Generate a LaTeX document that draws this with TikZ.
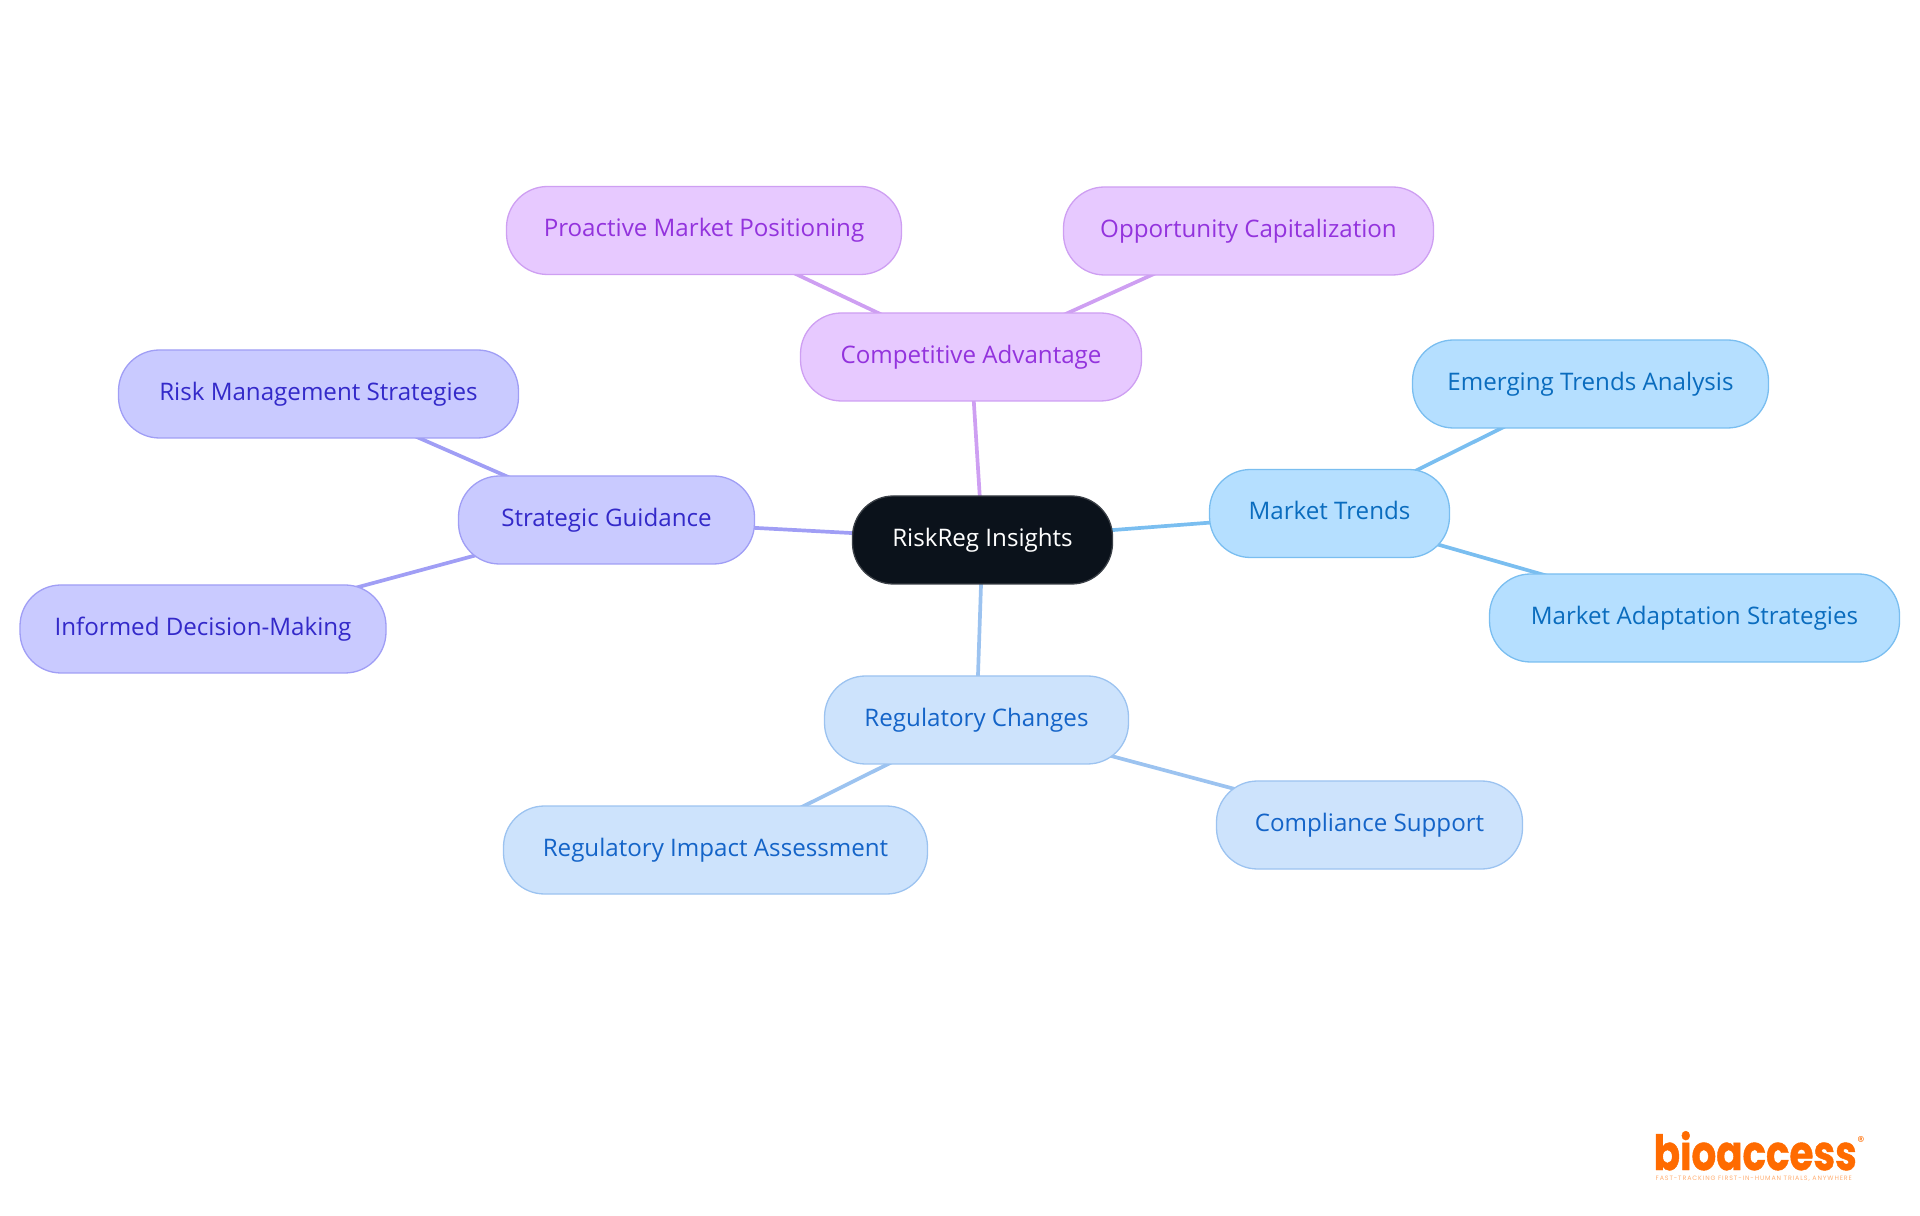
\documentclass[tikz,border=0pt]{standalone}
\usepackage{fontspec}
\setmainfont{Open Sans}
\newfontfamily\logofont{Poppins}
\usetikzlibrary{backgrounds}
\definecolor{rootfill}{HTML}{0B121B}
\definecolor{rootline}{HTML}{3A3F46}
\definecolor{purpfill}{HTML}{E7C9FF}
\definecolor{purpline}{HTML}{CE9FF2}
\definecolor{purptext}{HTML}{9333DD}
\definecolor{indifill}{HTML}{C9CAFF}
\definecolor{indiline}{HTML}{A09EF5}
\definecolor{inditext}{HTML}{3329C9}
\definecolor{skyfill}{HTML}{B5DFFF}
\definecolor{skyline}{HTML}{7ABEF0}
\definecolor{skytext}{HTML}{0A6CBE}
\definecolor{palefill}{HTML}{CDE3FC}
\definecolor{paleline}{HTML}{9CC3F0}
\definecolor{paletext}{HTML}{1464C8}
\definecolor{logoorange}{HTML}{FF6B00}
\tikzset{
	pill/.style={draw, line width=0.013cm, rounded corners=0.41cm, minimum height=0.88cm, inner sep=0pt, text height=0.19cm, text depth=0.06cm, font=\fontsize{6.87}{8}\selectfont},
	rootpill/.style={pill, fill=rootfill, draw=rootline, text=white},
	purppill/.style={pill, fill=purpfill, draw=purpline, text=purptext},
	indipill/.style={pill, fill=indifill, draw=indiline, text=inditext},
	skypill/.style={pill, fill=skyfill, draw=skyline, text=skytext},
	palepill/.style={pill, fill=palefill, draw=paleline, text=paletext},
	branch/.style={line width=0.037cm}
}
\begin{document}
\begin{tikzpicture}
	\useasboundingbox (0,0) rectangle (19.2,12.15); %page frame
	%centre
	\node[rootpill, minimum width=2.6cm] (risk) at (9.825,6.75) {RiskReg Insights};
	%Competitive Advantage
	\node[purppill, minimum width=3.41cm] (comp) at (9.71,8.58) {Competitive Advantage};
	\node[purppill, minimum width=3.95cm] (proa) at (7.04,9.845) {Proactive Market Positioning};
	\node[purppill, minimum width=3.7cm] (oppo) at (12.485,9.84) {Opportunity Capitalization};
	%Market Trends
	\node[skypill, minimum width=2.4cm] (mark) at (13.295,7.015) {Market Trends};
	\node[skypill, minimum width=3.56cm] (emer) at (15.905,8.31) {Emerging Trends Analysis};
	\node[skypill, minimum width=4.1cm] (adap) at (16.945,5.97) {Market Adaptation Strategies};
	%Regulatory Changes
	\node[palepill, minimum width=3.04cm] (regu) at (9.765,4.95) {Regulatory Changes};
	\node[palepill, minimum width=4.24cm] (impa) at (7.155,3.65) {Regulatory Impact Assessment};
	\node[palepill, minimum width=3.06cm] (supp) at (13.695,3.9) {Compliance Support};
	%Strategic Guidance
	\node[indipill, minimum width=2.96cm] (stra) at (6.065,6.95) {Strategic Guidance};
	\node[indipill, minimum width=4cm] (mana) at (3.185,8.21) {Risk Management Strategies};
	\node[indipill, minimum width=3.66cm] (info) at (2.03,5.86) {Informed Decision-Making};
	%branches behind the pills
	\begin{scope}[on background layer]
		\draw[branch, color=purpline] (risk.center) -- (comp.center) (comp.center) -- (proa.center) (comp.center) -- (oppo.center);
		\draw[branch, color=skyline] (risk.center) -- (mark.center) (mark.center) -- (emer.center) (mark.center) -- (adap.center);
		\draw[branch, color=paleline] (risk.center) -- (regu.center) (regu.center) -- (impa.center) (regu.center) -- (supp.center);
		\draw[branch, color=indiline] (risk.center) -- (stra.center) (stra.center) -- (mana.center) (stra.center) -- (info.center);
	\end{scope}
	%logo
	\node[inner sep=0pt, text=logoorange, anchor=base west, text depth=0pt, font=\logofont\bfseries\fontsize{13.8}{16}\selectfont\addfontfeature{FakeBold=1}] (logo) at (16.53,0.45) {\scalebox{0.8}[1]{bioaccess}};
	\node[inner sep=0pt, text=logoorange, font=\logofont\fontsize{4}{4}\selectfont] (regi) at (18.61,0.73) {®};
	\node[inner sep=0pt, text=logoorange!55, anchor=base west, font=\logofont\fontsize{1.8}{2}\selectfont\addfontfeature{LetterSpace=14}] (tagl) at (16.55,0.35) {FAST-TRACKING FIRST-IN-HUMAN TRIALS, ANYWHERE};
\end{tikzpicture}
\end{document}
